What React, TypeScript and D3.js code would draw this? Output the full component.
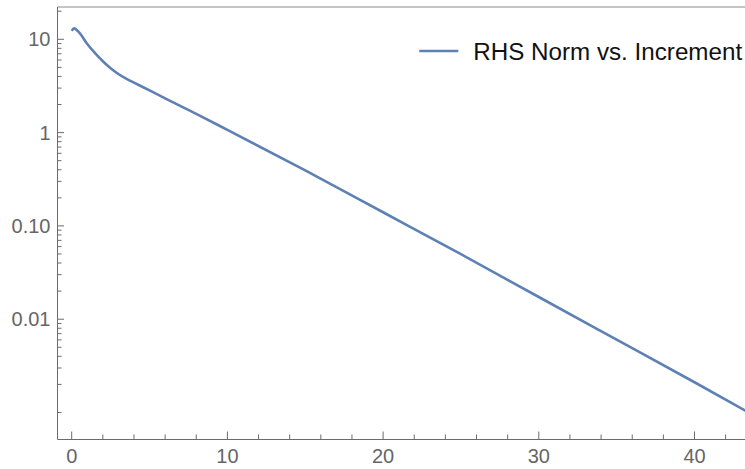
import React from "react";
import * as d3 from "d3";

// RHS norm sampled against the increment
const increments = [0, 0.15, 0.5, 1, 1.5, 2, 2.5, 3, 3.5, 4, 5, 6, 7, 8, 10, 15, 20, 25, 30, 35, 40, 43.3];
const rhsNorm = [12.3, 13.1, 11.7, 8.9, 7.1, 5.82, 4.9, 4.25, 3.78, 3.43, 2.83, 2.33, 1.92, 1.585, 1.07, 0.394, 0.14, 0.0497, 0.0173, 0.00604, 0.00211, 0.00104];

const xMajorTicks = [0, 10, 20, 30, 40];
const xMinorTicks = [2, 4, 6, 8, 12, 14, 16, 18, 22, 24, 26, 28, 32, 34, 36, 38, 42];
const yMajorTicks = [10, 1, 0.1, 0.01];
const yMajorLabels = ["10", "1", "0.10", "0.01"];
const yMinorMultipliers = [2, 3, 4, 5, 6, 7, 8, 9];
const yMinorDecades = [0.001, 0.01, 0.1, 1, 10];

const legendLabel = "RHS Norm vs. Increment";

const W = 745;
const H = 469;
const left = 57.5;
const bottom = 439.5;
const top = 7;
const font = "'Liberation Sans', Arial, sans-serif";
const axisColor = "#6b6b6b";
const labelColor = "#666666";
const lineColor = "#5E81B5";

export default function App() {
  const x = d3.scaleLinear().domain([0, 40]).range([71.7, 694.5]);
  const y = d3.scaleLog().domain([0.001, 10]).range([412.5, 39.3]);

  const yMinor: number[] = [0.001];
  yMinorDecades.forEach((d) =>
    yMinorMultipliers.forEach((m) => {
      const v = d * m;
      if (y(v) >= top && y(v) <= bottom) yMinor.push(v);
    })
  );

  const line = d3
    .line<number>()
    .x((_, i) => x(increments[i]))
    .y((v) => y(v))
    .curve(d3.curveMonotoneX);

  return (
    <svg
      width={W}
      height={H}
      style={{ position: "absolute", left: 0, top: 0, background: "#fff" }}
      fontFamily={font}
    >
      <defs>
        <clipPath id="plot">
          <rect x={left} y={top} width={W - left} height={bottom - top} />
        </clipPath>
      </defs>
      <line x1={left} x2={W} y1={top} y2={top} stroke="#b0b0b0" strokeWidth={1.3} />
      <path
        d={line(rhsNorm) || ""}
        fill="none"
        stroke={lineColor}
        strokeWidth={2.6}
        clipPath="url(#plot)"
      />
      {/* frame axes */}
      <line x1={left} x2={left} y1={top} y2={bottom} stroke={axisColor} strokeWidth={1} />
      <line x1={left} x2={W} y1={bottom} y2={bottom} stroke={axisColor} strokeWidth={1} />
      {xMajorTicks.map((t) => (
        <g key={"xM" + t}>
          <line x1={x(t)} x2={x(t)} y1={bottom} y2={bottom - 8} stroke={axisColor} />
          <text x={x(t)} y={463} textAnchor="middle" fontSize={20} fill={labelColor}>
            {t}
          </text>
        </g>
      ))}
      {xMinorTicks.map((t) => (
        <line key={"xm" + t} x1={x(t)} x2={x(t)} y1={bottom} y2={bottom - 5} stroke={axisColor} />
      ))}
      {yMajorTicks.map((t, i) => (
        <g key={"yM" + t}>
          <line x1={left} x2={left + 6.5} y1={y(t)} y2={y(t)} stroke={axisColor} />
          <text
            x={50.5}
            y={y(t)}
            dy="0.35em"
            textAnchor="end"
            fontSize={20}
            fill={labelColor}
          >
            {yMajorLabels[i]}
          </text>
        </g>
      ))}
      {yMinor.map((t) => (
        <line key={"ym" + t} x1={left} x2={left + 4} y1={y(t)} y2={y(t)} stroke={axisColor} />
      ))}
      {/* legend */}
      <line x1={419.3} x2={458.3} y1={51} y2={51} stroke={lineColor} strokeWidth={2.6} />
      <text x={473.3} y={59.5} fontSize={24.2} fill="#111">
        {legendLabel}
      </text>
    </svg>
  );
}
